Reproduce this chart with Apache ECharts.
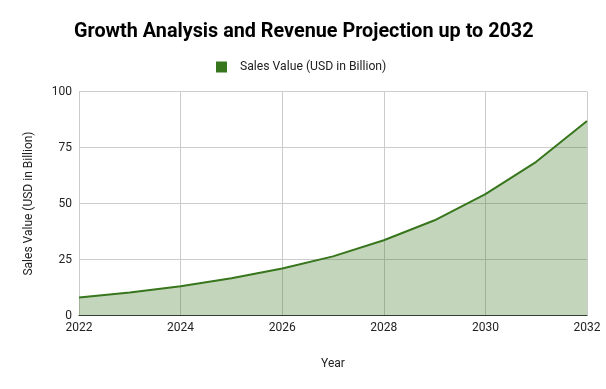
<!DOCTYPE html>
<html><head><meta charset="utf-8">
<script src="https://cdn.jsdelivr.net/npm/echarts@6/dist/echarts.min.js"></script>
<style>html,body{margin:0;padding:0;background:#fff}#c{width:606px;height:389px}</style>
</head><body><div id="c"></div>
<script>
const years = ['2022','2023','2024','2025','2026','2027','2028','2029','2030','2031','2032'];
const salesValues = [8.0, 10.3, 13.1, 16.6, 21.0, 26.4, 33.6, 42.5, 54.2, 68.6, 86.8];
const yTicks = [0, 25, 50, 75, 100];
const seriesName = 'Sales Value (USD in Billion)';

const chart = echarts.init(document.getElementById('c'), null, {renderer: 'canvas'});
chart.setOption({
  animation: false,
  textStyle: {fontFamily: 'Roboto'},
  title: {
    text: 'Growth Analysis and Revenue Projection up to 2032',
    left: 69, top: 17,
    textStyle: {fontSize: 19.8, fontWeight: 'bold', color: '#000', fontFamily: 'Roboto'}
  },
  legend: {
    data: [seriesName],
    top: 56, left: 211,
    itemWidth: 11, itemHeight: 11, icon: 'rect',
    textStyle: {fontSize: 12.2, color: '#222', fontFamily: 'Roboto', padding: [0, 0, 0, 8]}
  },
  grid: {left: 79, right: 19, top: 91.5, height: 224},
  xAxis: {
    type: 'category', data: years, boundaryGap: false,
    name: 'Year', nameLocation: 'middle', nameGap: 42,
    nameTextStyle: {fontSize: 12, color: '#222'},
    axisLine: {show: true, lineStyle: {color: '#333', width: 1}},
    axisTick: {show: false},
    axisLabel: {interval: 1, fontSize: 12, color: '#222', margin: 6},
    splitLine: {show: true, interval: 1, lineStyle: {color: '#ccc'}}
  },
  yAxis: {
    type: 'value', min: yTicks[0], max: yTicks[yTicks.length-1], interval: 25,
    name: 'Sales Value (USD in Billion)', nameLocation: 'middle', nameGap: 44,
    nameTextStyle: {fontSize: 12, color: '#222'},
    axisLine: {show: true, lineStyle: {color: '#ccc'}},
    axisTick: {show: false},
    axisLabel: {fontSize: 12, color: '#222', margin: 7},
    splitLine: {show: true, lineStyle: {color: '#ccc'}}
  },
  series: [{
    name: seriesName, type: 'line', data: salesValues,
    smooth: false, symbol: 'none',
    lineStyle: {color: '#38761d', width: 2},
    itemStyle: {color: '#38761d'},
    areaStyle: {color: '#38761d', opacity: 0.3}
  }]
});
</script></body></html>
